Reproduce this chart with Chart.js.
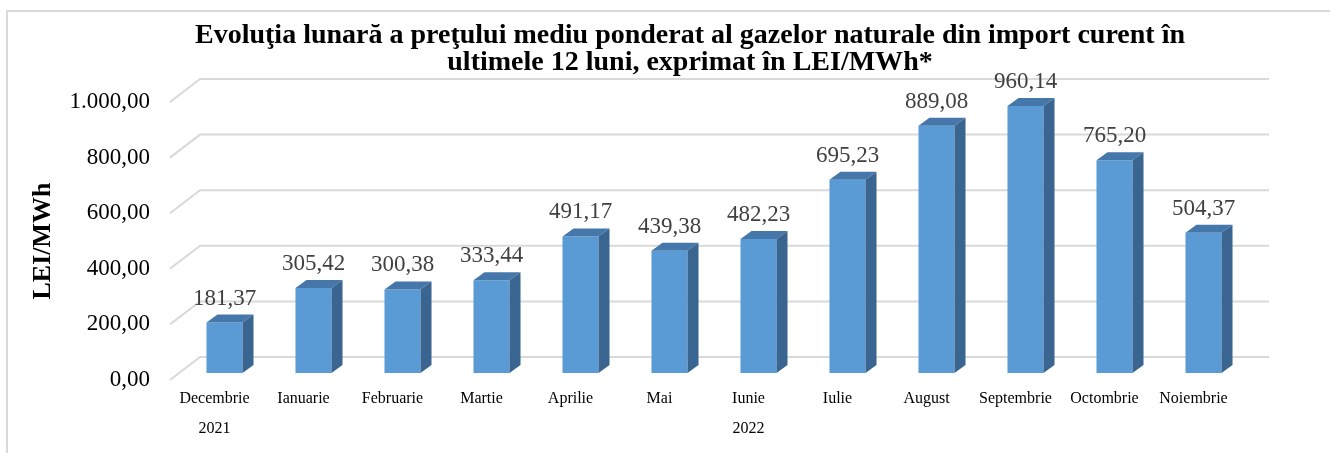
<!DOCTYPE html>
<html>
<head>
<meta charset="utf-8">
<script src="https://cdn.jsdelivr.net/npm/chart.js@4/dist/chart.umd.min.js"></script>
<style>
  html, body { margin:0; padding:0; background:#fff; }
  #wrap { width:1330px; height:453px; position:relative; }
</style>
</head>
<body>
<div id="wrap"><canvas id="c" width="1330" height="453"></canvas></div>
<script>
// data
const months = ['Decembrie','Ianuarie','Februarie','Martie','Aprilie','Mai','Iunie','Iulie','August','Septembrie','Octombrie','Noiembrie'];
const years  = ['2021','','','','','','2022','','','','',''];
const prices = [181.37, 305.42, 300.38, 333.44, 491.17, 439.38, 482.23, 695.23, 889.08, 960.14, 765.20, 504.37];
const yTicks = [0, 200, 400, 600, 800, 1000];
const titleLines = ['Evoluţia lunară a preţului mediu ponderat al gazelor naturale din import curent în', 'ultimele 12 luni, exprimat în LEI/MWh*'];
const yTitle = 'LEI/MWh';

const FONT = "'Liberation Serif', 'Times New Roman', serif";
const DX = 11, DY = 8;        // bar depth
const SHIFT_X = 10, SHIFT_Y = -7; // bars sit mid-depth
const WALL_X = 30, WALL_Y = 23;   // back wall offset

// 1.000,00 style
function fmt(v){
  const parts = v.toFixed(2).split('.');
  parts[0] = parts[0].replace(/\B(?=(\d{3})+(?!\d))/g, '.');
  return parts.join(',');
}

const labels = months.map((m,i)=> years[i] ? [m, years[i]] : [m]);

const frame3d = {
  id: 'frame3d',
  beforeDraw(chart){
    const ctx = chart.ctx;
    ctx.save();
    ctx.fillStyle = '#fff';
    ctx.fillRect(0,0,chart.width,chart.height);
    ctx.strokeStyle = '#d9d9d9'; ctx.lineWidth = 2;
    ctx.strokeRect(7, 11, 1400, 500);
    // title, slightly widened like the original
    ctx.fillStyle = '#000';
    ctx.font = 'bold 27px ' + FONT;
    ctx.textAlign = 'center'; ctx.textBaseline = 'alphabetic';
    const sx = 990 / ctx.measureText(titleLines[0]).width;
    ctx.translate(690, 0);
    ctx.scale(sx, 1);
    ctx.fillText(titleLines[0], 0, 43);
    ctx.fillText(titleLines[1], 0, 70);
    ctx.restore();
  },
  beforeDatasetsDraw(chart){
    const ctx = chart.ctx, y = chart.scales.y, area = chart.chartArea;
    ctx.save();
    ctx.strokeStyle = '#d9d9d9'; ctx.lineWidth = 2;
    yTicks.forEach(t=>{
      const py = y.getPixelForValue(t);
      ctx.beginPath();
      ctx.moveTo(area.left, py);
      ctx.lineTo(area.left + WALL_X, py - WALL_Y);
      ctx.lineTo(area.right + WALL_X + 1, py - WALL_Y);
      ctx.stroke();
    });
    ctx.restore();
    ctx.save();
    ctx.translate(SHIFT_X, SHIFT_Y);
  },
  afterDatasetsDraw(chart){
    const ctx = chart.ctx;
    const meta = chart.getDatasetMeta(0);
    meta.data.forEach((el,i)=>{
      const p = el.getProps(['x','y','base','width'], true);
      const l = p.x - p.width/2, r = p.x + p.width/2;
      // top face
      ctx.fillStyle = '#4677aa';
      ctx.beginPath();
      ctx.moveTo(l, p.y); ctx.lineTo(r, p.y); ctx.lineTo(r+DX, p.y-DY); ctx.lineTo(l+DX, p.y-DY);
      ctx.closePath(); ctx.fill();
      // side face
      ctx.fillStyle = '#3a6590';
      ctx.beginPath();
      ctx.moveTo(r, p.y); ctx.lineTo(r+DX, p.y-DY); ctx.lineTo(r+DX, p.base-DY); ctx.lineTo(r, p.base);
      ctx.closePath(); ctx.fill();
      // value label
      ctx.fillStyle = '#404040';
      ctx.font = '23px ' + FONT;
      ctx.textAlign = 'center'; ctx.textBaseline = 'alphabetic';
      ctx.fillText(fmt(prices[i]), p.x, p.y - DY - 10);
    });
    ctx.restore();
  }
};

new Chart(document.getElementById('c'), {
  type: 'bar',
  data: {
    labels: labels,
    datasets: [{
      data: prices,
      backgroundColor: '#5b9bd5',
      borderWidth: 0,
      barPercentage: 0.405,
      categoryPercentage: 1
    }]
  },
  options: {
    responsive: false,
    animation: false,
    layout: { padding: { left: 8, right: 92, top: 102, bottom: 0 } },
    plugins: { legend: { display:false }, tooltip: { enabled:false }, title: { display:false } },
    scales: {
      x: {
        grid: { display:false, drawTicks:false },
        border: { display:false },
        ticks: { color:'#000', font:{ family:FONT, size:16, lineHeight:1.875 }, padding:4, maxRotation:0, autoSkip:false },
        afterFit(s){ s.height = 73; }
      },
      y: {
        min: 0, max: 1000,
        grid: { display:false, drawTicks:false },
        border: { display:false },
        ticks: { stepSize:200, color:'#000', font:{ family:FONT, size:23 }, padding:20, callback:(v)=>fmt(v) },
        title: { display:true, text:yTitle, color:'#000', font:{ family:FONT, size:26, weight:'bold' }, padding:{ top:20, bottom:0 } },
        afterFit(s){ s.width = 162; }
      }
    }
  },
  plugins: [frame3d]
});
</script>
</body>
</html>
